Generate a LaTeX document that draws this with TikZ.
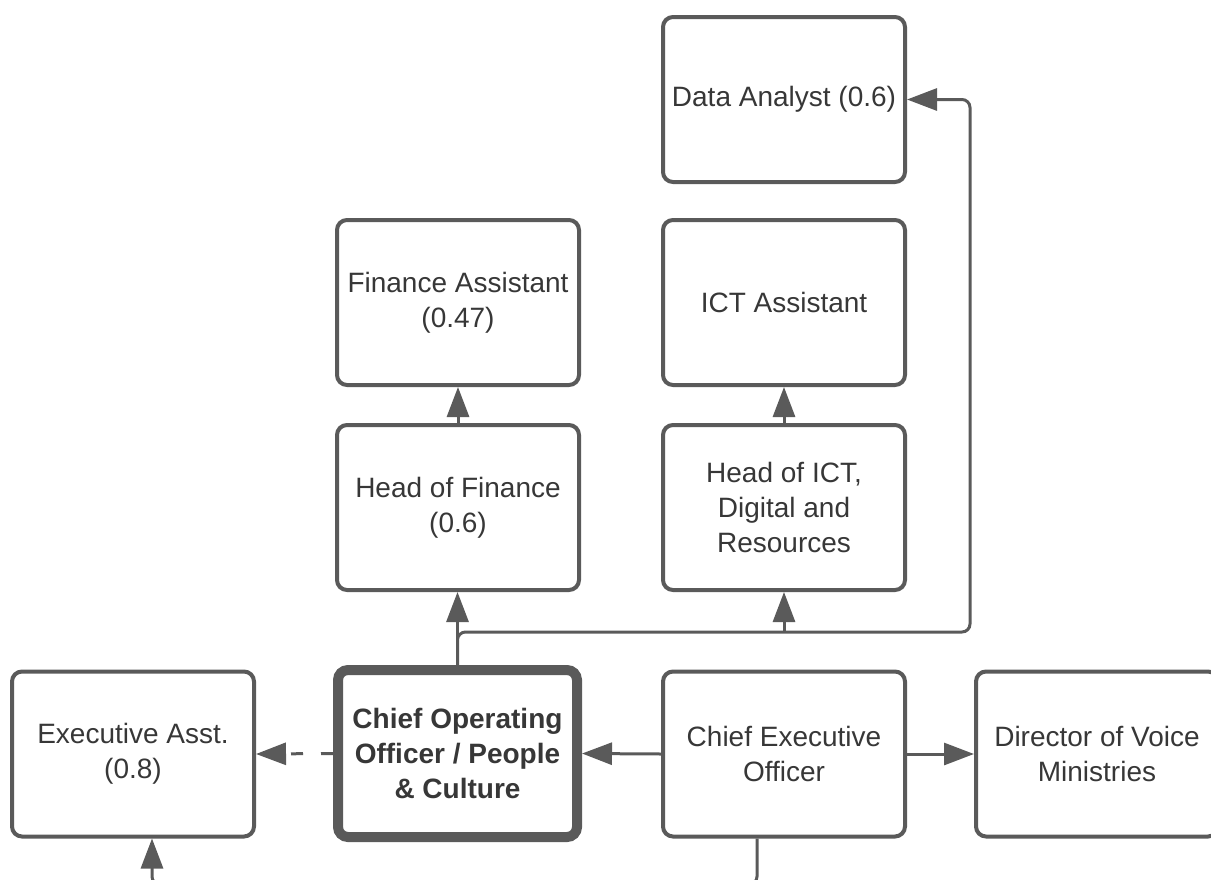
\documentclass[tikz,border=0pt]{standalone}
\usepackage{fontspec}
\setmainfont{Liberation Sans}
\usetikzlibrary{arrows.meta}
\definecolor{linegray}{RGB}{90,90,90}
\definecolor{textgray}{RGB}{55,55,55}

\begin{document}
\begin{tikzpicture}[x=0.75pt,y=-0.75pt]
          \tikzstyle{Box}=[draw=linegray, line width=3pt, rounded corners=7.5pt,
            minimum width=181.5pt, minimum height=123.75pt, align=center,
            text=textgray, font=\fontsize{21}{26.6}\selectfont]
          \tikzstyle{MainBox}=[Box, line width=7.5pt, minimum width=179.25pt,
            minimum height=125.25pt, font=\fontsize{21}{26.6}\selectfont\bfseries]
          \tikzstyle{EdgeStyle}=[draw=linegray, line width=2.25pt,
            -{Triangle[length=22.5pt,width=16.5pt]}]
          \useasboundingbox (0,0) rectangle (1211,879);
          \clip (0,0) rectangle (1211,879);
          % vertices
          \node[Box] (data) at (784,99.5) {Data Analyst (0.6)};
          \node[Box] (finasst) at (458,302.5) {Finance Assistant\\(0.47)};
          \node[Box] (ictasst) at (784,302.5) {ICT Assistant};
          \node[Box] (headfin) at (458,507.5) {Head of Finance\\(0.6)};
          \node[Box] (headict) at (784,507.5) {Head of ICT,\\Digital and\\Resources};
          \node[Box] (exec) at (133,754) {Executive Asst.\\(0.8)};
          \node[MainBox] (coo) at (457.5,753.5) {Chief Operating\\Officer / People\\\& Culture};
          \node[Box] (ceo) at (784,754) {Chief Executive\\Officer};
          \node[Box] (dir) at (1097,754) {Director of Voice\\Ministries};
          % edges
          \coordinate (bend) at (970,632);
          \draw[EdgeStyle] (coo.north) -- (coo.north |- headfin.south);
          \draw[EdgeStyle, rounded corners=6pt] (coo.north) |- (bend) |- (data.east);
          \draw[EdgeStyle] (headict.south |- bend) -- (headict.south);
          \draw[EdgeStyle] (headfin.north) -- (finasst.south);
          \draw[EdgeStyle] (headict.north) -- (ictasst.south);
          \draw[EdgeStyle] (ceo.west) -- (coo.east);
          \draw[EdgeStyle] (ceo.east) -- (dir.west);
          \draw[EdgeStyle, dash pattern=on 9pt off 13.5pt] (coo.west) -- (exec.east);
          % loop under the picture
          \draw[EdgeStyle, rounded corners=6pt] ([xshift=-20.25pt]ceo.south) -- ++(0,46)
            -| ([xshift=14.25pt]exec.south);
        \end{tikzpicture}
\end{document}
